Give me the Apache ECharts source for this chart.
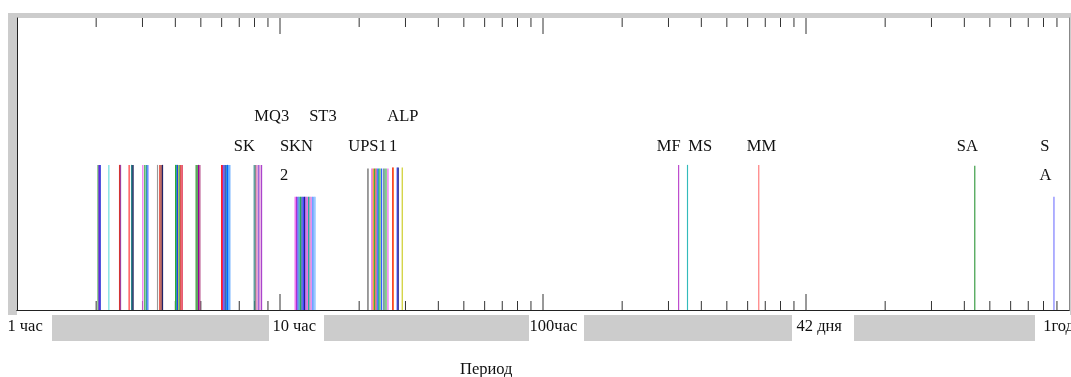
<!DOCTYPE html>
<html><head><meta charset="utf-8">
<script src="https://cdn.jsdelivr.net/npm/echarts@6/dist/echarts.min.js"></script>
<style>html,body{margin:0;padding:0;background:#fff}#c{width:1071px;height:377px}</style>
</head><body><div id="c"></div>
<script>
// ---- DATA (periods in hours) ----
const constituentPeriods = [
  2.034, 2.052, 2.070, 2.235, 2.454, 2.476,
  2.669, 2.726, 2.746, 2.765,
  3.009, 3.062, 3.103, 3.144,
  3.422, 3.492, 3.532, 3.576,
  4.008, 4.043, 4.078, 4.125, 4.161, 4.198, 4.246,
  4.800, 4.851, 4.902, 4.958,
  5.996, 6.049, 6.118, 6.188, 6.253, 6.319, 6.391, 6.447,
  7.979, 8.062, 8.169, 8.277, 8.386, 8.511,
  11.42, 11.557, 11.70, 11.83, 11.97, 12.12, 12.26, 12.40, 12.55, 12.69, 12.84, 12.99, 13.14, 13.29, 13.46, 13.61,
  21.60, 22.37, 22.63, 22.90, 23.17, 23.43, 23.71, 23.99, 24.35, 24.85, 25.29, 25.73, 26.82, 26.96, 27.91, 28.16, 29.16,
  327.86, 354.37, 661.31, 4382.9, 8766.2
];
const constituentHeights = [
  0.497, 0.497, 0.497, 0.497, 0.497, 0.497,
  0.497, 0.497, 0.497, 0.497,
  0.497, 0.497, 0.497, 0.497,
  0.497, 0.497, 0.497, 0.497,
  0.497, 0.497, 0.497, 0.497, 0.497, 0.497, 0.497,
  0.497, 0.497, 0.497, 0.497,
  0.497, 0.497, 0.497, 0.497, 0.497, 0.497, 0.497, 0.497,
  0.497, 0.497, 0.497, 0.497, 0.497, 0.497,
  0.388, 0.388, 0.388, 0.388, 0.388, 0.388, 0.388, 0.388, 0.388, 0.388, 0.388, 0.388, 0.388, 0.388, 0.388, 0.388,
  0.485, 0.485, 0.485, 0.485, 0.485, 0.485, 0.485, 0.485, 0.485, 0.485, 0.485, 0.485, 0.488, 0.488, 0.488, 0.488, 0.488,
  0.497, 0.497, 0.497, 0.494, 0.388
];
const constituentLabels = ['MQ3', 'ST3', 'ALP', 'SK', 'SKN', 'UPS1', '1', '2', 'MF', 'MS', 'MM', 'SA', 'S', 'A'];
const labelAnchorPeriods = [7.99, 12.91, 25.57, 6.676, 9.99, 18.17, 25.95, 9.99, 270.7, 356.9, 595.5, 3746, 7773, 7725];
const minorTickValues = [2,3,4,5,6,7,8,9, 20,30,40,50,60,70,80,90, 200,300,400,500,600,700,800,900, 2000,3000,4000,5000,6000,7000,8000,9000];
const majorTickValues = [10, 100, 1000];
const axisLabelValues = [1, 10, 100, 1008, 8766];
const axisLabelTexts = ['1 час', '10 час', '100час', '42 дня', '1год'];
const axisTitle = 'Период';

// ---- STYLE ----
const lineColors = [
  '#2ca02c', '#8000ff', '#0000cd', '#66dddd', '#d33333', '#a040a0',
  '#ff3030', '#2e8b8b', '#1f5f7f', '#333366',
  '#ee66ee', '#33aa33', '#2090a0', '#3366ff',
  '#999999', '#dd3322', '#882222', '#222266',
  '#33aa33', '#3399aa', '#2244dd', '#aaaa22', '#22aa66', '#ee2222', '#dd2244',
  '#228822', '#55aa55', '#990099', '#aa3377',
  '#ff2222', '#dd2266', '#3333ff', '#112288', '#2288dd', '#0066ff', '#3399ff', '#66aaff',
  '#2f8f8f', '#888888', '#dd66aa', '#9966dd', '#cc66cc', '#aa44cc',
  '#ee55ee', '#aa33cc', '#3333ff', '#22aaaa', '#22aa55', '#1133aa', '#2222ff', '#222288', '#8833dd', '#ee55cc', '#22aaaa', '#888888', '#ee66ee', '#66aaff', '#4488ff', '#99ccff',
  '#555555', '#dd44dd', '#ee8822', '#33aa33', '#ee3333', '#3355ff', '#22aaaa', '#33aa33', '#2255ff', '#226666', '#33aa33', '#ee55ee', '#ee2222', '#ff6622', '#2233ee', '#222288', '#cccc22',
  '#bb44cc', '#33bbbb', '#ff7777', '#33993f', '#7777ff'
];
const labelRows = [0, 0, 0, 1, 1, 1, 1, 2, 1, 1, 1, 1, 1, 2];
const rowY = [116.5, 146.5, 176];
const axisLabelDx = [-9.6, -7.6, -13.4, -10.4, -10.8];
const FONT = '16.5px "Liberation Serif", "Times New Roman", serif';
const TEXT_COLOR = '#111';
const GRID = {left: 17, top: 18, right: 2, bottom: 67};

const chart = echarts.init(document.getElementById('c'), null, {renderer: 'canvas'});

const option = {
  animation: false,
  backgroundColor: '#fff',
  grid: {left: GRID.left, top: GRID.top, right: GRID.right, bottom: GRID.bottom, show: true, backgroundColor: '#fff', borderWidth: 0},
  xAxis: [
    {type: 'log', logBase: 10, min: 1, max: 10000, position: 'bottom',
     axisLine: {show: true, lineStyle: {color: '#222', width: 1}}, axisTick: {show: false}, axisLabel: {show: false}, splitLine: {show: false}},
    {type: 'log', logBase: 10, min: 1, max: 10000, position: 'top',
     axisLine: {show: true, lineStyle: {color: '#222', width: 1}}, axisTick: {show: false}, axisLabel: {show: false}, splitLine: {show: false}}
  ],
  yAxis: [
    {type: 'value', min: 0, max: 1, position: 'left',
     axisLine: {show: true, lineStyle: {color: '#222', width: 1}}, axisTick: {show: false}, axisLabel: {show: false}, splitLine: {show: false}},
    {type: 'value', min: 0, max: 1, position: 'right',
     axisLine: {show: true, lineStyle: {color: '#888', width: 1}}, axisTick: {show: false}, axisLabel: {show: false}, splitLine: {show: false}}
  ],
  graphic: [
    {type: 'rect', shape: {x: 8, y: 13, width: 1063, height: 5}, style: {fill: '#cccccc'}, z: -10, silent: true},
    {type: 'rect', shape: {x: 8, y: 13, width: 9, height: 302}, style: {fill: '#cccccc'}, z: -10, silent: true},
    {type: 'rect', shape: {x: 1070, y: 13, width: 1, height: 302}, style: {fill: '#cccccc'}, z: -10, silent: true},
    {type: 'rect', shape: {x: 52, y: 315, width: 217, height: 26}, style: {fill: '#cccccc'}, silent: true},
    {type: 'rect', shape: {x: 324, y: 315, width: 205, height: 26}, style: {fill: '#cccccc'}, silent: true},
    {type: 'rect', shape: {x: 584, y: 315, width: 208, height: 26}, style: {fill: '#cccccc'}, silent: true},
    {type: 'rect', shape: {x: 854, y: 315, width: 181, height: 26}, style: {fill: '#cccccc'}, silent: true},
    {type: 'text', x: 460, y: 370, style: {text: axisTitle, font: FONT, fill: TEXT_COLOR, align: 'left', verticalAlign: 'middle', textAlign: 'left', textVerticalAlign: 'middle'}, silent: true}
  ],
  series: [
    {
      type: 'custom', coordinateSystem: 'cartesian2d', xAxisIndex: 0, yAxisIndex: 0, clip: false, silent: true, z: 3,
      data: minorTickValues.map(v => [v, 0, 9]).concat(majorTickValues.map(v => [v, 0, 16])),
      renderItem: (params, api) => {
        const b = api.coord([api.value(0), 0]);
        const t = api.coord([api.value(0), 1]);
        const len = api.value(2);
        return {type: 'group', children: [
          {type: 'line', shape: {x1: b[0], y1: b[1], x2: b[0], y2: b[1] - len}, style: {stroke: '#333', lineWidth: 1}},
          {type: 'line', shape: {x1: t[0], y1: t[1], x2: t[0], y2: t[1] + len}, style: {stroke: '#333', lineWidth: 1}}
        ]};
      }
    },
    {
      type: 'custom', coordinateSystem: 'cartesian2d', xAxisIndex: 0, yAxisIndex: 0, clip: false, silent: true, z: 4,
      data: constituentPeriods.map((p, i) => [p, constituentHeights[i]]),
      renderItem: (params, api) => {
        const p0 = api.coord([api.value(0), 0]);
        const p1 = api.coord([api.value(0), api.value(1)]);
        return {type: 'line', shape: {x1: p0[0], y1: p0[1], x2: p1[0], y2: p1[1]},
                style: {stroke: lineColors[params.dataIndex], lineWidth: 1.15}};
      }
    },
    {
      type: 'custom', coordinateSystem: 'cartesian2d', xAxisIndex: 0, yAxisIndex: 0, clip: false, silent: true, z: 5,
      data: labelAnchorPeriods.map(p => [p, 0]),
      renderItem: (params, api) => {
        const p = api.coord([api.value(0), 0]);
        const i = params.dataIndex;
        return {type: 'text', x: p[0], y: rowY[labelRows[i]],
                style: {text: constituentLabels[i], font: FONT, fill: TEXT_COLOR, align: 'left', verticalAlign: 'middle', textAlign: 'left', textVerticalAlign: 'middle'}};
      }
    },
    {
      type: 'custom', coordinateSystem: 'cartesian2d', xAxisIndex: 0, yAxisIndex: 0, clip: false, silent: true, z: 5,
      data: axisLabelValues.map(v => [v, 0]),
      renderItem: (params, api) => {
        const p = api.coord([api.value(0), 0]);
        const i = params.dataIndex;
        return {type: 'text', x: p[0] + axisLabelDx[i], y: p[1] + 17,
                style: {text: axisLabelTexts[i], font: FONT, fill: TEXT_COLOR, align: 'left', verticalAlign: 'middle', textAlign: 'left', textVerticalAlign: 'middle'}};
      }
    }
  ]
};
chart.setOption(option);
</script>
</body></html>
